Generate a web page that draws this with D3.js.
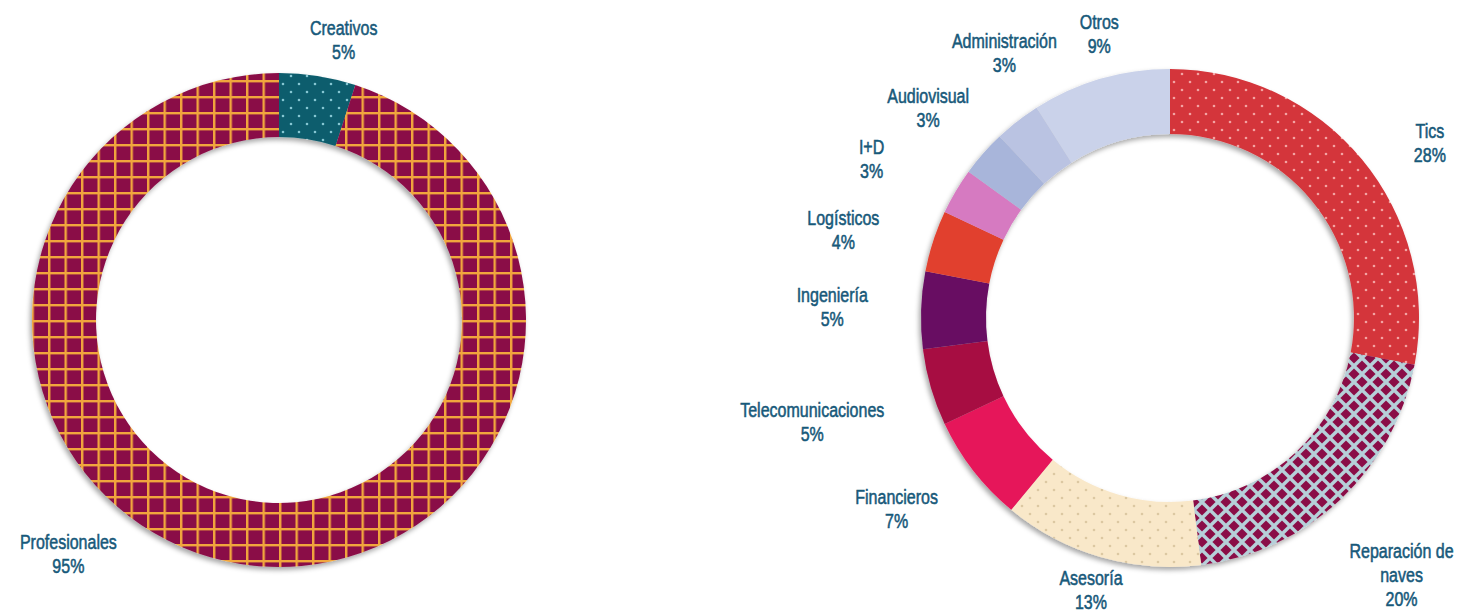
<!DOCTYPE html>
<html>
<head>
<meta charset="utf-8">
<script src="https://cdn.jsdelivr.net/npm/d3@7"></script>
<style>
  body { margin: 0; background: #fff; }
  svg text { font-family: "Liberation Sans", Arial, sans-serif; font-size: 20px; fill: #17597a; stroke: #17597a; stroke-width: 0.55px; }
</style>
</head>
<body>
<div id="chart"></div>
<script>
var width = 1476,
    height = 613;

// left donut: tipo de servicio
var leftCats = ["Creativos", "Profesionales"],
    leftVals = [5, 95];

// right donut: sector
var rightCats = ["Tics", "Reparación de naves", "Asesoría", "Financieros", "Telecomunicaciones",
                 "Ingeniería", "Logísticos", "I+D", "Audiovisual", "Administración", "Otros"],
    rightVals = [28, 20, 13, 7, 5, 5, 4, 3, 3, 3, 9];

var leftFills = ["url(#dotsTeal)", "url(#gridWine)"];
var rightFills = ["url(#dotsRed)", "url(#diamonds)", "url(#dotsCream)", "#e6165a", "#a70a42",
                  "#680b62", "#e1402f", "#d67ac1", "#a8b5da", "#bac3e2", "#cad2ea"];

var svg = d3.select("#chart").append("svg")
  .attr("width", width)
  .attr("height", height);

var defs = svg.append("defs");

// drop shadow, down-left
var sh = defs.append("filter").attr("id", "shadow")
  .attr("x", "-10%").attr("y", "-10%").attr("width", "120%").attr("height", "120%");
sh.append("feDropShadow")
  .attr("dx", -2).attr("dy", 3).attr("stdDeviation", 2.5)
  .attr("flood-color", "#000").attr("flood-opacity", 0.35);

function dotPattern(id, bg, dot) {
  var p = defs.append("pattern").attr("id", id)
    .attr("patternUnits", "userSpaceOnUse").attr("width", 16).attr("height", 16);
  p.append("rect").attr("width", 16).attr("height", 16).attr("fill", bg);
  [[4, 4], [12, 12]].forEach(function(c) {
    p.append("circle").attr("cx", c[0]).attr("cy", c[1]).attr("r", 1.3).attr("fill", dot);
  });
}
dotPattern("dotsTeal", "#0b5d6d", "#86c6d2");
dotPattern("dotsRed", "#d4343a", "#f3a3a3");
dotPattern("dotsCream", "#f9e8c9", "#dcc8a2");

// grid
var g = defs.append("pattern").attr("id", "gridWine")
  .attr("patternUnits", "userSpaceOnUse").attr("width", 16.5).attr("height", 16);
g.append("rect").attr("width", 16.5).attr("height", 16).attr("fill", "#8a0f47");
g.append("rect").attr("x", 0).attr("y", 0).attr("width", 2.4).attr("height", 16).attr("fill", "#f1a63c");
g.append("rect").attr("x", 0).attr("y", 0).attr("width", 16.5).attr("height", 2.4).attr("fill", "#f1a63c");

// diamonds
var dm = defs.append("pattern").attr("id", "diamonds")
  .attr("patternUnits", "userSpaceOnUse").attr("width", 16).attr("height", 16);
dm.append("rect").attr("width", 16).attr("height", 16).attr("fill", "#b6d0d9");
[[8, 8], [0, 0], [16, 0], [0, 16], [16, 16]].forEach(function(c) {
  var s = 5.6;
  dm.append("polygon")
    .attr("points", [[c[0], c[1] - s], [c[0] + s, c[1]], [c[0], c[1] + s], [c[0] - s, c[1]]].join(" "))
    .attr("fill", "#8a0f47");
});

var pie = d3.pie().sort(null).value(function(d) { return d; });

// label layout tweaks (angle in degrees, extra push in px), like excel's best fit
function donut(cx, cy, rOut, rIn, cats, vals, fills, tweak) {
  var gg = svg.append("g").attr("transform", "translate(" + cx + "," + cy + ")");
  var arc = d3.arc().innerRadius(rIn).outerRadius(rOut);
  var arcs = pie(vals);

  gg.append("g").attr("filter", "url(#shadow)")
    .selectAll("path")
    .data(arcs)
    .enter()
    .append("path")
    .attr("d", arc)
    .attr("fill", function(d, i) { return fills[i]; });

  arcs.forEach(function(d, i) {
    var name = cats[i];
    var lines = name === "Reparación de naves" ? ["Reparación de", "naves"] : [name];
    lines.push(vals[i] + "%");

    var t = gg.append("text").attr("text-anchor", "middle");
    lines.forEach(function(l) { t.append("tspan").text(l); });

    // narrow look: squeeze glyphs
    var w = 0;
    t.selectAll("tspan").each(function() {
      var L = this.getComputedTextLength() * 0.8;
      d3.select(this).attr("textLength", L).attr("lengthAdjust", "spacingAndGlyphs");
      w = Math.max(w, L);
    });
    var hw = w / 2, hh = lines.length * 12 - 12 + (lines.length > 2 ? 12 : 0);

    var tw = tweak[name] || {};
    var a = tw.a != null ? tw.a * Math.PI / 180 : (d.startAngle + d.endAngle) / 2;
    var ux = Math.sin(a), uy = -Math.cos(a);
    var dist = rOut + 3 + 50 * Math.abs(ux) + Math.abs(ux) * hw + Math.abs(uy) * hh + (tw.dr || 0);
    var x = ux * dist, y = uy * dist;

    var y0 = y - (lines.length - 1) * 12 + 7;
    t.selectAll("tspan")
      .attr("x", x)
      .attr("y", function(l, j) { return y0 + j * 24; });
  });
}

donut(279, 320, 247, 183, leftCats, leftVals, leftFills, {
  "Creativos": {a: 13, dr: 7},
  "Profesionales": {a: 222, dr: -10}
});
donut(1170, 318, 249, 184, rightCats, rightVals, rightFills, {
  "Tics": {a: 56},
  "Reparación de naves": {a: 138, dr: -1},
  "Asesoría": {dr: -3},
  "Financieros": {a: -125},
  "Logísticos": {a: -75},
  "I+D": {a: -62, dr: 25},
  "Audiovisual": {a: -49, dr: -8},
  "Administración": {a: -32, dr: -4},
  "Otros": {a: -14, dr: 12}
});
</script>
</body>
</html>
